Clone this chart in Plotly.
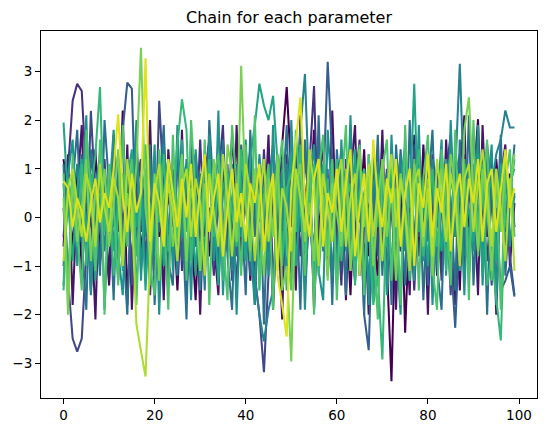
import plotly.graph_objects as go

steps = list(range(100))

s0 = [1.2, 0.4, -0.6, 0.9, -1.1, 0.3, -0.2, 1.4, -0.9, 0.1,
      -1.4, 0.7, -0.3, 2.2, -1.8, 0.5, 1.1, -0.7, 0.2, -1.2,
      0.8, -0.4, 1.6, -0.9, 0.3, -1.5, 0.6, 1.0, -0.2, -1.7,
      0.4, 1.3, -0.8, 0.1, -1.1, 0.9, -0.5, 1.7, 0.2, -1.0,
      0.6, -1.3, 0.3, 1.1, -0.6, 0.8, -1.9, 0.4, 1.5, 2.68,
      0.9, -0.7, 1.2, -1.4, 0.2, 1.8, -0.3, 0.7, -1.2, 0.5,
      -0.9, 1.1, 0.3, -1.6, 0.8, -0.1, 1.4, -0.8, 0.2, -1.3,
      0.6, -1.0, -3.37, 0.4, 1.2, -2.37, 0.1, 0.9, -0.6, 1.5,
      -0.4, 0.8, -1.2, 0.3, 1.0, -0.9, 0.5, -1.5, 1.3, -0.2,
      0.7, 2.02, -0.8, 0.4, -1.1, 1.2, 0.1, -0.7, 0.9, -0.2]
n1 = [-0.6, 1.3, -1.8, 0.5, 1.9, -0.9, 0.2, -2.1, 1.1, 0.4,
      -1.3, 1.7, 0.3, -0.8, 1.5, -1.9, 0.6, 1.2, -0.4, 2.0,
      -1.1, 0.7, -1.7, 1.4, 0.1, -0.9, 1.8, -1.5, 0.4, 1.0,
      -2.0, 0.8, 1.6, -0.5, -1.6, 1.2, 0.3, -1.2, 1.9, -0.7,
      0.5, 1.4, -1.8, 0.9, -0.3, 1.7, -1.4, 0.2, -2.1, 1.3,
      0.6, -1.5, 2.1, -0.8, 1.0, -1.9, 0.4, 1.6, -1.1, 2.2,
      -0.5, 1.1, -1.7, 0.8, 1.9, -1.2, 0.3, -2.0, 1.4, -0.6,
      1.8, -1.4, 0.5, -1.9, 1.2, 0.2, -1.6, 1.7, -0.8, 0.9,
      -2.0, 1.3, 0.4, -1.1, 1.6, -0.3, -1.8, 1.0, 2.1, -1.2,
      0.7, -1.6, 1.9, -0.4, 1.2, -2.0, 0.8, 1.5, -1.0, 0.3]
s1 = [-0.4, 0.9, 2.4, 2.75, 2.6, 0.8, -1.5, 0.3, -0.9, 1.2,
      -0.5, 0.6, -1.3, 0.9, 0.2, -1.0, 1.5, -0.3, 0.7, -1.6,
      0.3, 1.1, -0.8, 0.5, -0.2, 1.3, -1.1, 0.4, 0.9, -0.6,
      1.6, -0.4, 0.2, -1.2, 0.8, 1.9, -0.7, 0.1, -1.4, 0.6,
      1.2, -0.3, 0.5, -0.9, 1.4, -0.5, 0.3, 1.0, -1.3, 0.7,
      -0.2, 1.5, -0.8, 0.4, 1.1, 2.7, -0.6, 0.2, -1.0, 0.9,
      0.3, -1.4, 1.2, -0.5, 0.6, 1.6, -0.9, 0.1, -1.7, 0.8,
      -0.3, 1.0, -1.2, 0.5, -0.7, 1.3, 0.2, -1.5, 0.6, -0.1,
      1.1, -0.8, 0.4, -1.3, 0.9, 1.7, -0.4, 0.3, -1.1, 0.7,
      -0.6, 1.4, 0.2, -0.9, 0.5, -1.6, 1.0, -0.3, 0.8, 0.4]
s2 = [0.2, -1.3, -2.49, -2.76, -2.49, -0.7, 2.19, 0.4, -1.0, 0.8,
      0.3, -0.6, 1.1, -0.2, 0.9, -1.4, 0.5, 1.2, -0.8, 0.1,
      -1.1, 2.4, 0.6, -0.4, 1.0, -0.9, 0.3, -1.6, 0.7, 1.3,
      -0.5, 0.2, 1.5, -1.0, 0.4, -0.3, 1.1, -1.3, 0.6, 0.9,
      -0.7, 0.3, -1.2, -2.0, -3.18, -1.1, 0.8, -0.4, 1.2, 0.2,
      -0.9, 0.6, 1.4, -0.3, 0.5, -1.5, 0.9, 1.6, -0.6, 0.1,
      1.0, -1.1, 0.4, 0.8, -0.5, 1.3, -1.4, 0.2, 0.7, -0.8,
      1.2, -0.2, 0.5, -1.0, 0.9, 0.3, -1.3, 1.5, -0.4, 0.6,
      -1.2, 0.1, 1.1, -0.7, 0.4, -1.6, 0.8, 1.3, -0.3, -1.0,
      0.5, 1.0, -0.6, 0.2, -1.4, 0.9, -0.1, 1.2, -0.8, -1.6]
s3 = [-1.0, 0.5, 0.1, -0.8, 1.3, -0.4, 0.7, -1.2, 0.2, 0.9,
      -0.6, 1.4, 0.3, 1.8, 2.77, 2.65, -0.5, 0.6, -1.1, 0.2,
      1.0, -0.3, 0.5, -1.4, 0.8, 0.1, -0.9, 1.2, -0.2, 0.6,
      -1.3, 0.4, 1.1, -0.6, 0.3, -1.0, 0.9, 0.2, -0.8, 1.5,
      0.4, -1.2, 0.7, -0.1, 1.0, -0.9, 0.5, 1.3, -0.4, 0.1,
      -1.1, 0.8, -0.3, 1.2, 0.2, -0.7, 1.6, 0.5, 3.2, 1.1,
      -0.8, 0.3, 1.0, -0.5, -1.3, 0.6, -2.0, -2.73, 0.4, 1.1,
      -0.6, 0.9, 0.2, -1.1, 1.4, -0.4, 0.5, -0.9, 1.0, 0.3,
      -1.4, 0.7, -0.2, 1.2, 0.4, -0.8, -2.27, -0.1, 0.6, -1.2,
      0.9, -0.5, 0.3, 1.1, -0.9, 0.2, -1.5, -1.3, -1.0, -1.63]
n2 = [1.1, -1.6, 0.7, 1.8, -0.5, -1.9, 1.4, 0.3, -1.2, 2.0,
      0.6, -1.7, 1.2, -0.4, -2.0, 0.9, 1.6, -1.1, 0.2, 1.5,
      -1.8, 0.4, 1.9, -0.9, -1.4, 1.3, 0.1, -2.1, 1.7, -0.6,
      0.9, -1.5, 2.0, 0.5, -1.2, 1.6, -0.8, -1.9, 1.1, 0.3,
      -1.6, 1.8, -0.4, 1.2, -2.2, 0.7, 1.5, -1.0, 0.2, 1.9,
      -1.3, 0.8, -1.9, 1.6, 0.4, -1.5, 2.1, -0.7, 1.0, -1.8,
      1.4, 0.2, -1.6, 1.9, -0.9, 0.6, -2.0, 1.3, -0.3, 1.7,
      -1.2, 0.9, -1.8, 1.5, 0.1, -1.4, 2.0, -0.6, 1.1, -1.7,
      0.5, 1.8, -1.0, -1.9, 1.2, 0.4, -1.5, 1.6, -0.8, 2.1,
      -1.4, 0.6, 1.3, -2.0, 0.9, -0.5, 1.7, -1.2, 0.3, 1.5]
s4 = [0.7, -1.2, 0.3, 1.1, -0.5, 0.8, -1.6, 0.2, 1.0, -0.7,
      0.4, -0.2, 1.3, -1.0, 0.6, 0.1, -1.5, 0.9, -0.4, 1.2,
      -0.8, 0.5, 1.5, -0.3, 0.2, -1.2, 0.7, 1.1, -0.6, 0.3,
      -1.5, 0.9, -0.1, 0.6, 1.3, -0.8, 0.4, -1.1, 0.8, -0.4,
      1.0, -0.5, -1.3, -2.0, -2.55, -1.9, -1.5, 0.6, -0.2, 1.1,
      -0.7, 0.4, 1.8, 2.95, 0.3, -0.9, 1.2, -0.4, 0.7, -1.2,
      0.5, 1.4, -0.6, 0.2, -1.0, 0.9, 0.3, -1.4, 0.6, 1.1,
      -0.3, 0.8, -1.1, 0.4, 1.3, -0.7, 0.1, -1.2, 0.9, 0.5,
      -0.5, 1.2, -0.9, 0.3, 1.0, -1.3, 0.9, 3.16, 0.4, -0.6,
      1.1, 0.2, -0.8, 1.5, 0.6, 1.3, 1.6, 2.2, 1.85, 1.85]
n3 = [-1.4, 0.9, 1.6, -1.0, 0.3, 2.1, -1.5, 0.6, 1.3, -1.9,
      0.4, 1.8, -0.7, -1.6, 1.1, 0.2, 2.0, -1.3, 0.8, -0.5,
      1.5, -2.0, 0.6, 1.2, -1.1, 1.9, -0.4, 0.9, -1.7, 1.4,
      0.1, -1.3, 1.7, -0.9, 2.2, -1.6, 0.5, 1.1, -2.0, 0.8,
      1.6, -0.6, -1.8, 1.3, 0.3, -1.2, 1.9, -0.8, 1.0, -1.5,
      2.0, -0.3, 1.2, -1.9, 0.7, 1.5, -1.1, -1.7, 1.8, 0.4,
      -1.4, 1.6, -0.7, 2.1, -1.3, 0.5, 1.0, -1.8, 1.4, -0.2,
      0.9, -1.6, 1.7, -0.5, -2.0, 1.2, 0.6, -1.3, 1.9, -0.9,
      1.3, -1.8, 0.2, 1.6, -1.2, 2.0, -0.4, 0.8, -1.6, 1.1,
      -0.7, 1.9, -1.4, 0.4, 1.5, -1.8, 0.9, 1.3, -0.6, 0.5]
s5 = [1.95, 0.3, -0.9, 0.6, 1.2, -0.4, 0.9, -1.3, 0.5, 0.1,
      1.0, -0.7, 0.4, -1.1, 0.8, 1.4, -0.2, 0.6, -1.5, 0.3,
      -0.4, 0.9, -1.0, 1.2, 0.2, -0.6, 1.6, -0.3, 0.7, -1.2,
      0.5, -0.8, 1.1, 0.3, -1.4, 0.6, 1.0, -0.5, 0.2, 0.8,
      -0.9, 1.2, 1.9, 2.75, 2.3, 2.0, 2.5, 1.1, -0.6, 0.4,
      1.3, -1.0, 0.5, -0.2, 0.9, -1.3, 0.3, 1.1, -0.7, 0.6,
      -1.1, 0.2, 0.8, -0.4, 1.4, -0.9, 0.5, 0.1, -1.6, 0.9,
      0.3, -0.6, 1.0, -1.2, 0.7, 1.5, 0.2, 2.75, -0.3, 0.4,
      -1.0, 0.8, 0.2, -0.7, 1.2, -0.4, 0.6, -1.1, 0.9, 0.1,
      -0.5, 1.3, -1.2, 0.4, 0.8, -0.9, 1.1, -0.2, 0.5, 1.2]
s6 = [-1.5, 0.8, 0.2, -0.6, 1.1, -1.0, 0.5, 1.3, 2.68, -0.3,
      0.7, -1.2, 0.1, 0.9, -0.5, 1.2, -0.8, 0.4, 1.0, -1.4,
      0.6, -0.1, 1.3, -0.7, 0.3, 1.5, 2.43, 1.8, -0.9, 0.5,
      -1.0, 0.2, 1.2, -0.4, 0.7, -1.3, 0.9, 0.1, -0.6, 1.4,
      0.3, -0.8, 1.0, -1.5, 0.5, 0.2, -0.4, 1.1, -1.0, 0.6,
      0.9, -0.3, 1.5, -0.7, 0.4, 1.1, -1.2, 0.2, 0.8, -0.5,
      1.2, -0.9, 0.3, 0.7, -1.4, 0.5, 1.0, -0.2, -1.8, -1.2,
      -2.92, 0.4, 1.1, -0.5, 0.9, -0.1, -1.3, 0.6, 1.4, -0.8,
      0.2, 1.0, -0.6, 0.5, -1.1, 0.8, 0.3, -0.4, 1.2, -0.9,
      0.6, -0.2, 1.1, -1.4, -0.8, -1.6, -2.53, 0.3, 0.7, 1.0]
n4 = [0.9, -1.7, 1.3, -0.3, -1.5, 1.8, 0.5, -1.1, 1.6, -2.0,
      1.1, 0.3, -1.4, 1.9, -0.6, 1.2, -1.8, 0.7, 1.5, -1.0,
      -1.6, 1.4, 0.2, -1.9, 1.7, -0.5, 1.0, -1.3, 2.0, 0.4,
      -1.1, 1.6, -1.8, 0.8, 1.3, -0.4, -1.7, 1.9, 0.6, -1.2,
      1.5, -0.9, 2.1, -1.4, 0.3, 1.1, -1.9, 0.7, 1.6, -0.6,
      -1.5, 1.8, 0.4, -1.2, 1.4, -2.0, 0.9, 1.7, -0.8, 1.2,
      -1.7, 0.5, 1.9, -1.1, 0.2, 1.5, -1.6, 1.3, -0.5, -2.1,
      1.0, 1.6, -1.3, 0.6, -1.8, 1.9, -0.7, 1.2, -1.5, 0.8,
      1.7, -1.0, -1.9, 1.4, 0.3, -1.4, 1.8, -0.6, 1.1, -1.7,
      2.0, -0.8, 0.5, 1.6, -1.3, 1.0, -1.9, 0.7, 1.4, -0.4]
s7 = [0.4, -2.0, 0.9, -0.5, 0.2, 1.2, -0.9, 0.6, -0.1, 1.0,
      -0.6, 0.3, 1.4, -1.0, 0.5, -0.3, 1.1, 3.49, 0.2, -0.8,
      0.9, -1.3, 0.4, 1.0, -0.6, 0.2, 1.3, -0.9, 0.6, 0.1,
      -1.1, 0.7, -0.3, 1.2, 0.4, -0.8, 1.5, 0.9, -0.5, 3.12,
      0.3, -0.7, 1.0, 0.2, -1.2, 0.8, -0.4, 1.3, -1.5, -1.0,
      -2.96, 0.6, 1.1, -0.5, 0.3, -0.9, 1.2, 0.4, -1.3, 0.7,
      0.1, -0.6, 1.0, -1.1, 0.5, 1.4, -0.2, 0.8, -1.0, 0.3,
      1.2, -0.4, 0.6, -1.3, 0.9, 0.2, -0.8, 1.1, 0.4, -0.6,
      0.8, -1.2, 0.3, 1.0, -0.5, 1.3, 0.6, -0.9, 1.8, 2.47,
      0.5, -0.7, 1.0, 0.2, -1.1, 0.9, -0.3, 1.2, 0.6, 1.3]
s8 = [-0.9, 0.6, 1.0, 0.3, -0.4, 0.9, 0.5, -0.6, 1.1, 0.2,
      -0.3, 0.8, 0.4, -1.0, 1.2, 0.1, -2.2, -2.75, -3.27, -0.8,
      0.5, 1.1, -0.5, 0.7, 0.2, -0.9, 0.6, 1.0, -0.4, 0.8,
      0.3, -1.2, 0.9, 0.1, -0.6, 1.3, 0.4, -0.8, 0.7, -0.2,
      1.1, 0.5, -0.9, 0.3, 1.2, -0.5, 0.8, -1.1, 0.6, 0.2,
      -0.7, 1.0, 0.4, -0.3, 1.4, 0.6, -1.0, 0.9, 0.2, -0.5,
      0.7, 1.2, -0.6, 0.4, 0.9, -1.2, 0.3, 1.1, -0.4, 0.6,
      -0.9, 0.5, 1.3, -0.2, 0.8, 0.1, -1.1, 0.7, 1.0, -0.4,
      0.6, -0.8, 1.2, 0.3, -0.5, 0.9, 0.4, -1.0, 0.8, 1.1,
      -0.3, 0.7, 1.4, 0.5, -0.6, 1.0, 0.2, -0.9, 0.8, -1.1]
s9 = [0.75, 0.6, -0.2, 0.4, 0.1, -0.5, 0.3, 0.8, -0.1, 0.5,
      0.2, 1.0, 2.12, 0.4, -0.3, 0.9, 0.1, 0.5, 3.27, -0.5,
      0.7, 0.3, -0.6, 1.2, 0.5, -0.2, 0.8, 0.0, 1.1, -0.4,
      0.6, 1.3, -0.3, 0.4, 0.9, -0.8, 0.2, 1.0, -0.1, 0.5,
      -0.5, 0.7, 0.3, 1.1, -0.7, 0.4, 0.9, -1.2, -1.8, -2.45,
      0.6, 1.5, 2.47, 0.3, -0.4, 0.8, 1.2, -0.6, 0.5, 0.1,
      1.0, -0.3, 0.7, 1.4, -0.8, 0.2, 0.9, -0.5, 1.6, 0.4,
      -0.2, 0.8, 0.3, 1.2, -0.6, 0.5, 1.0, -1.0, 0.7, 0.2,
      1.3, -0.4, 0.6, 0.1, 1.1, -0.7, 0.4, 0.9, -0.2, 0.8,
      0.3, 1.2, -0.5, 0.7, 1.0, -0.3, 0.5, 1.4, 0.2, 0.6]

chains = [s0, n1, s1, s2, s3, n2, s4, n3, s5, s6, n4, s7, s8, s9]
colors = ["#440154", "#481467", "#46327e", "#3f4889", "#365d8d", "#2d708e",
          "#26828e", "#21918c", "#20a486", "#35b779", "#4ec36b", "#7ad151",
          "#addc30", "#dde318"]

fig = go.Figure()
for vals, c in zip(chains, colors):
    fig.add_trace(go.Scatter(x=steps, y=vals, mode="lines",
                             line=dict(color=c, width=2.05), showlegend=False,
                             hoverinfo="skip"))

allv = [v for s in chains for v in s]
ymin, ymax = min(allv), max(allv)
ypad = 0.05 * (ymax - ymin)
xpad = 0.05 * (steps[-1] - steps[0])

axis_common = dict(showline=True, linecolor="black", linewidth=1.1, mirror=True,
                   ticks="outside", ticklen=5, tickwidth=1.1, tickcolor="black",
                   showgrid=False, zeroline=False,
                   tickfont=dict(family="DejaVu Sans", size=13.5, color="black"))

fig.update_layout(
    width=546, height=434,
    margin=dict(l=41, r=9, t=31, b=36),
    paper_bgcolor="white", plot_bgcolor="white",
    title=dict(text="Chain for each parameter", x=0.5, xanchor="center",
               xref="paper", yref="paper", y=1, yanchor="bottom",
               pad=dict(b=8),
               font=dict(family="DejaVu Sans", size=16, color="black")),
    xaxis=dict(range=[steps[0] - xpad, steps[-1] + xpad], tick0=0, dtick=20, **axis_common),
    yaxis=dict(range=[ymin - ypad, ymax + ypad], tick0=0, dtick=1, **axis_common),
)

fig.write_html("out.html")
